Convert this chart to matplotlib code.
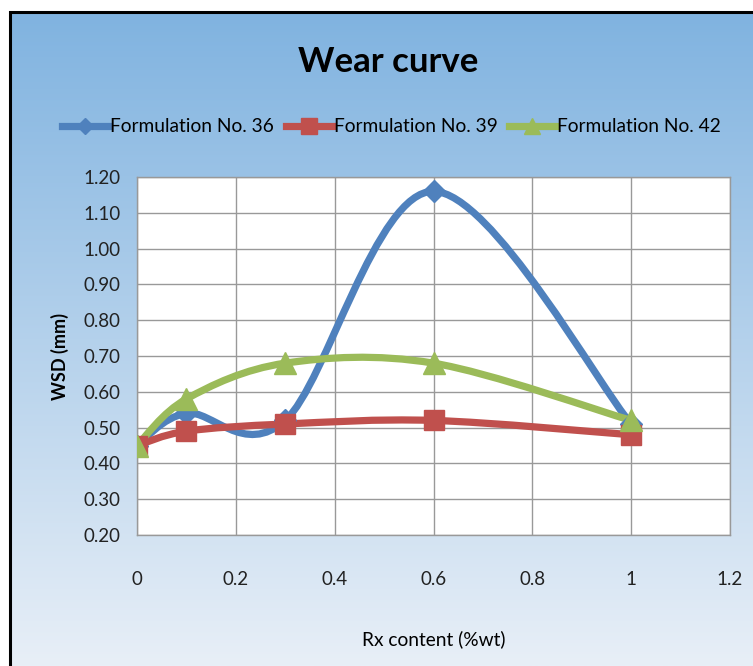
import numpy as np
import matplotlib
matplotlib.use("Agg")
import matplotlib.pyplot as plt
from matplotlib.path import Path
from matplotlib.patches import PathPatch, Rectangle
from matplotlib.lines import Line2D

plt.rcParams['font.family'] = ['Lato', 'DejaVu Sans']

## Data

rx = [0, 0.1, 0.3, 0.6, 1.0]
f36 = [0.45, 0.54, 0.52, 1.16, 0.51]
f39 = [0.45, 0.49, 0.51, 0.52, 0.48]
f42 = [0.45, 0.58, 0.68, 0.68, 0.52]

names = ['Formulation No. 36', 'Formulation No. 39', 'Formulation No. 42']
colors = ['#4F81BD', '#C0504D', '#9BBB59']
markers = ['D', 's', '^']
msizes = [11.5, 14.5, 15.5]

xticks = [0, 0.2, 0.4, 0.6, 0.8, 1, 1.2]
xticklabels = ['0', '0.2', '0.4', '0.6', '0.8', '1', '1.2']
yticks = [0.2, 0.3, 0.4, 0.5, 0.6, 0.7, 0.8, 0.9, 1.0, 1.1, 1.2]


def smooth_path(x, y):
    # excel style smoothed line: bezier segments, catmull-rom control points
    pts = np.column_stack([x, y]).astype(float)
    n = len(pts)
    verts = [pts[0]]
    codes = [Path.MOVETO]
    for i in range(n - 1):
        p0 = pts[max(i - 1, 0)]
        p1 = pts[i]
        p2 = pts[i + 1]
        p3 = pts[min(i + 2, n - 1)]
        c1 = p1 + (p2 - p0) / 6.0
        c2 = p2 - (p3 - p1) / 6.0
        verts += [c1, c2, p2]
        codes += [Path.CURVE4] * 3
    return Path(verts, codes)


W, H = 753, 666
fig = plt.figure(figsize=(W / 100, H / 100), dpi=100)
fig.patch.set_facecolor('white')

## Background gradient inside the border
bx0, btop = 10 / W, 1 - 12 / H
bg = fig.add_axes([bx0, 0, 1 - bx0, btop])
bg.set_axis_off()
grad = np.linspace(0, 1, 256).reshape(-1, 1)
top_c = np.array([0x80, 0xB3, 0xE0]) / 255
bot_c = np.array([0xE8, 0xEF, 0xF7]) / 255
img = top_c[None, None, :] * (1 - grad[:, :, None]) + bot_c[None, None, :] * grad[:, :, None]
bg.imshow(img, aspect='auto', extent=[0, 1, 0, 1], origin='upper')
bg.set_xlim(0, 1)
bg.set_ylim(0, 1)
fig.add_artist(Rectangle((bx0, -0.01), 1.0, btop + 0.01, transform=fig.transFigure,
                         fill=False, edgecolor='black', linewidth=2.2, zorder=5))

## Main plot
ax = fig.add_axes([137 / W, 1 - 535 / H, (730 - 137) / W, (535 - 177) / H])
ax.set_facecolor('white')

for ys, c, m, ms in zip([f36, f39, f42], colors, markers, msizes):
    ax.add_patch(PathPatch(smooth_path(rx, ys), fill=False, edgecolor=c,
                           linewidth=5.2, capstyle='round', joinstyle='round', zorder=3))
    ax.plot(rx, ys, linestyle='none', marker=m, markersize=ms, color=c,
            markeredgecolor=c, zorder=4)

ax.set_xlim(0, 1.2)
ax.set_ylim(0.2, 1.2)
ax.set_xticks(xticks)
ax.set_xticklabels(xticklabels)
ax.set_yticks(yticks)
ax.set_yticklabels(['%.2f' % v for v in yticks])
ax.grid(True, color='#999999', linewidth=1)
ax.set_axisbelow(True)
for s in ax.spines.values():
    s.set_color('#999999')
    s.set_linewidth(1)
ax.tick_params(axis='both', length=0, labelsize=13.5, colors='#222222')
ax.tick_params(axis='x', pad=26)
ax.tick_params(axis='y', pad=12)

ax.set_xlabel('Rx content (%wt)', fontsize=13.8, labelpad=30)
ax.set_ylabel('WSD (mm)', fontsize=13, fontweight='bold', labelpad=10)

fig.text(0.515, 1 - 62 / H, 'Wear curve', fontsize=25, fontweight='bold',
         ha='center', va='center')

handles = [Line2D([0], [0], color=c, linewidth=5.2, marker=m, markersize=ms * 0.75,
                  markeredgecolor=c) for c, m, ms in zip(colors, markers, msizes)]
fig.legend(handles, names, loc='center', bbox_to_anchor=(0.52, 1 - 127 / H), ncol=3,
           frameon=False, fontsize=13.8, handlelength=2.4, handletextpad=0.1,
           columnspacing=0.6)

fig.savefig('out.png', dpi=100)
